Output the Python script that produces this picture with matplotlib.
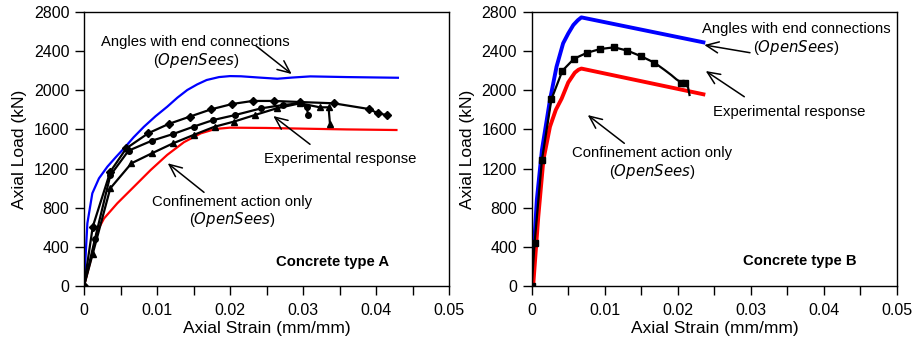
import numpy as np
import matplotlib.pyplot as plt

plt.rcParams['font.family'] = ['Liberation Sans', 'DejaVu Sans']

# ---- Concrete type A ----
a_blue_x = [0, 0.00046, 0.00114, 0.00205, 0.0032, 0.0044, 0.00548, 0.0068, 0.00822, 0.0098, 0.0114, 0.0128,
            0.01415, 0.0155, 0.0168, 0.0185, 0.0200, 0.0215, 0.0240, 0.0265, 0.0285, 0.0310, 0.0360, 0.0430]
a_blue_y = [0, 640, 947, 1100, 1219, 1320, 1407, 1520, 1628, 1735, 1832, 1925,
            2003, 2060, 2105, 2135, 2145, 2143, 2130, 2118, 2130, 2142, 2135, 2128]
a_red_x = [0, 0.00092, 0.00182, 0.00274, 0.00456, 0.00685, 0.00913, 0.0114, 0.0137, 0.0160, 0.0180, 0.0200,
           0.0250, 0.0300, 0.0360, 0.0428]
a_red_y = [0, 266, 560, 690, 845, 1015, 1185, 1340, 1470, 1560, 1605, 1618, 1615, 1608, 1600, 1594]

a_exp1_x = [0, 0.0012, 0.0036, 0.0058, 0.0088, 0.0116, 0.0145, 0.0174, 0.0203, 0.0231, 0.0260, 0.0296,
            0.0342, 0.0390, 0.0403, 0.0415]
a_exp1_y = [0, 606, 1168, 1407, 1561, 1656, 1731, 1805, 1860, 1891, 1891, 1880, 1867, 1809, 1764, 1747]
a_exp2_x = [0, 0.0015, 0.0036, 0.0061, 0.0093, 0.0122, 0.0150, 0.0177, 0.0207, 0.0243, 0.0273, 0.0296,
            0.0305, 0.0307]
a_exp2_y = [0, 480, 1130, 1383, 1485, 1553, 1628, 1696, 1747, 1816, 1850, 1867, 1832, 1747]
a_exp3_x = [0, 0.0012, 0.0036, 0.0065, 0.0093, 0.0122, 0.0150, 0.0179, 0.0205, 0.0234, 0.0264, 0.0296,
            0.0323, 0.0335, 0.0337]
a_exp3_y = [0, 330, 998, 1254, 1356, 1458, 1543, 1628, 1679, 1747, 1816, 1867, 1826, 1826, 1652]

# ---- Concrete type B ----
b_blue_x = [0, 0.0007, 0.0014, 0.0025, 0.0034, 0.0043, 0.0050, 0.0057, 0.0063, 0.0068, 0.0235]
b_blue_y = [0, 879, 1390, 1901, 2241, 2480, 2580, 2667, 2715, 2745, 2490]
b_red_x = [0.0002, 0.0009, 0.0016, 0.0025, 0.0033, 0.0041, 0.0050, 0.0059, 0.0064, 0.0068, 0.0235]
b_red_y = [0, 708, 1288, 1628, 1800, 1915, 2080, 2180, 2210, 2222, 1959]
b_exp_x = [0, 0.0004, 0.0014, 0.0027, 0.0042, 0.0058, 0.0076, 0.0094, 0.0113, 0.0131, 0.0149, 0.0168,
           0.0182, 0.0191, 0.0198, 0.0205, 0.0210, 0.0214, 0.0216]
b_exp_y = [0, 443, 1288, 1908, 2200, 2323, 2384, 2422, 2439, 2405, 2350, 2282, 2207, 2156, 2112, 2078,
           2070, 2030, 1952]
b_exp_marks = [0, 1, 2, 3, 4, 5, 6, 7, 8, 9, 10, 11, 15, 16]

fig = plt.figure(figsize=(9.14, 3.46), dpi=100)
axA = fig.add_axes([84/914, 1-286/346, 365/914, 274/346])
axB = fig.add_axes([531.7/914, 1-286/346, 365.3/914, 274/346])

axA.plot(a_blue_x, a_blue_y, color='#0000ff', lw=1.6)
axA.plot(a_red_x, a_red_y, color='#ff0000', lw=1.6)
axA.plot(a_exp1_x, a_exp1_y, color='k', lw=1.6, marker='D', ms=4)
axA.plot(a_exp2_x, a_exp2_y, color='k', lw=1.6, marker='o', ms=4)
axA.plot(a_exp3_x, a_exp3_y, color='k', lw=1.6, marker='^', ms=5)

axB.plot(b_blue_x, b_blue_y, color='#0000ff', lw=2.8)
axB.plot(b_red_x, b_red_y, color='#ff0000', lw=2.8)
axB.plot(b_exp_x, b_exp_y, color='k', lw=1.6, marker='s', ms=5, markevery=b_exp_marks)

arrow = dict(arrowstyle='->,head_length=0.9,head_width=0.4', lw=1.1, color='k', shrinkA=0, shrinkB=0)
fs = 10.7

# annotations panel A
axA.text(0.01530, 2490, 'Angles with end connections', ha='center', va='center', fontsize=fs)
axA.text(0.01530, 2300, '($\\it{OpenSees}$)', ha='center', va='center', fontsize=fs)
axA.annotate('', xy=(0.02845, 2166), xytext=(0.02355, 2455), arrowprops=arrow)
axA.text(0.03505, 1300, 'Experimental response', ha='center', va='center', fontsize=fs)
axA.annotate('', xy=(0.02593, 1737), xytext=(0.03096, 1448), arrowprops=arrow)
axA.text(0.02030, 860, 'Confinement action only', ha='center', va='center', fontsize=fs)
axA.text(0.02030, 680, '($\\it{OpenSees}$)', ha='center', va='center', fontsize=fs)
axA.annotate('', xy=(0.01147, 1254), xytext=(0.01644, 957), arrowprops=arrow)
axA.text(0.0340, 242, 'Concrete type A', ha='center', va='center', fontsize=fs, fontweight='bold')

# annotations panel B
axB.text(0.03616, 2625, 'Angles with end connections', ha='center', va='center', fontsize=fs)
axB.text(0.03616, 2440, '($\\it{OpenSees}$)', ha='center', va='center', fontsize=fs)
axB.annotate('', xy=(0.02362, 2463), xytext=(0.02988, 2384), arrowprops=arrow)
axB.text(0.03525, 1780, 'Experimental response', ha='center', va='center', fontsize=fs)
axB.annotate('', xy=(0.02382, 2197), xytext=(0.0291, 1934), arrowprops=arrow)
axB.text(0.01651, 1355, 'Confinement action only', ha='center', va='center', fontsize=fs)
axB.text(0.01651, 1175, '($\\it{OpenSees}$)', ha='center', va='center', fontsize=fs)
axB.annotate('', xy=(0.00767, 1747), xytext=(0.01268, 1458), arrowprops=arrow)
axB.text(0.03673, 256, 'Concrete type B', ha='center', va='center', fontsize=fs, fontweight='bold')

for ax in (axA, axB):
    ax.set_xlim(0, 0.05)
    ax.set_ylim(0, 2800)
    ax.set_xticks([0, 0.005, 0.01, 0.015, 0.02, 0.025, 0.03, 0.035, 0.04, 0.045, 0.05])
    ax.set_xticklabels(['0', '', '0.01', '', '0.02', '', '0.03', '', '0.04', '', '0.05'])
    ax.set_yticks(np.arange(0, 2801, 400))
    ax.tick_params(direction='out', length=6.5, width=1, labelsize=11.5, colors='k')
    ax.tick_params(axis='x', pad=6)
    ax.tick_params(axis='y', pad=4)
    ax.set_xlabel('Axial Strain (mm/mm)', fontsize=12.5, labelpad=2)
    ax.set_ylabel('Axial Load (kN)', fontsize=12.5, labelpad=5)
    for s in ax.spines.values():
        s.set_linewidth(1)

fig.savefig('out.png', dpi=100)
